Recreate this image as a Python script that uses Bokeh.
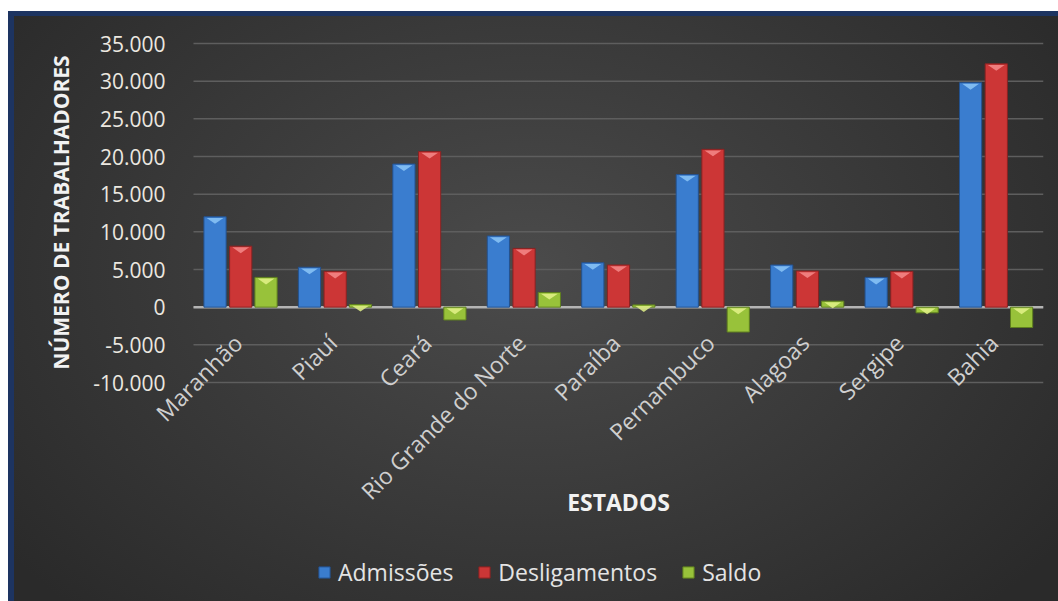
import math
from bokeh.plotting import figure
from bokeh.models import (Range1d, ColumnDataSource,
                          Legend, LegendItem, LabelSet, Label)
from bokeh.core.properties import value
from bokeh.embed import file_html
from bokeh.resources import INLINE

# ---------------- data ----------------
states = ["Maranhão", "Piauí", "Ceará", "Rio Grande do Norte", "Paraíba",
          "Pernambuco", "Alagoas", "Sergipe", "Bahia"]
admissoes = [12000, 5300, 19000, 9450, 5900, 17600, 5600, 3950, 29800]
desligamentos = [8100, 4750, 20650, 7800, 5600, 20950, 4800, 4750, 32300]
saldo = [3950, 350, -1700, 1950, 300, -3300, 800, -750, -2700]
series_names = ["Admissões", "Desligamentos", "Saldo"]
y_ticks = [-10000, -5000, 0, 5000, 10000, 15000, 20000, 25000, 30000, 35000]
y_tick_labels = ["-10.000", "-5.000", "0", "5.000", "10.000", "15.000",
                 "20.000", "25.000", "30.000", "35.000"]
x_axis_title = "ESTADOS"
y_axis_title = "NÚMERO DE TRABALHADORES"

# ---------------- style / geometry ----------------
FONT = "Open Sans"
colors = ["#3a7dcf", "#cc3636", "#98c23a"]
edge_colors = ["#24528f", "#8a2222", "#5f7f1f"]
hi_colors = ["#8cc6f7", "#f58a8a", "#e3f28a"]
offsets = [-0.272, 0.0, 0.268]
bar_w = 0.235
Y0, Y1 = -10000, 35000
N = len(states)
GRID_W = 850            # pixel width of the category area
LEFT_EXTRA = 177        # frame continues left of the grid (axis texts live here)
GRID_H = 339            # pixel height of the gridded part (35.000 .. -10.000)
EXTRA_H = 214           # frame continues below -10.000 for labels / legend
TOP_EXTRA = 20          # frame continues above 35.000 (room for top tick label)
FRAME_W = GRID_W + LEFT_EXTRA
FRAME_H = GRID_H + EXTRA_H + TOP_EXTRA
px = (Y1 - Y0) / GRID_H      # data units per pixel (y)
pxx = N / GRID_W             # category units per pixel (x)
Y_BOTTOM = Y0 - EXTRA_H * px
Y_TOP = Y1 + TOP_EXTRA * px
X_LEFT = -LEFT_EXTRA * pxx

centers = [i + 0.5 for i in range(N)]

p = figure(x_range=Range1d(X_LEFT, N), y_range=Range1d(Y_BOTTOM, Y_TOP),
           frame_width=FRAME_W, frame_height=FRAME_H,
           min_border_left=16, min_border_right=15, min_border_top=43 - TOP_EXTRA,
           min_border_bottom=5, output_backend="svg", toolbar_location=None)
p.border_fill_color = None
p.background_fill_color = None
p.outline_line_color = None
p.styles = {
    "background": (
        "linear-gradient(#ffffff,#ffffff) 0 0/100% 11px no-repeat,"
        "linear-gradient(#ffffff,#ffffff) 0 0/8px 100% no-repeat,"
        "linear-gradient(#1d3461,#1d3461) 0 11px/100% 5px no-repeat,"
        "linear-gradient(#1d3461,#1d3461) 8px 0/6px 100% no-repeat,"
        "radial-gradient(ellipse 62% 78% at 50% 45%, #4b4b4b 0%, #3c3c3c 45%, #2a2a2a 100%)"
    )
}
p.xaxis.visible = False
p.yaxis.visible = False
p.xgrid.grid_line_color = None
p.ygrid.grid_line_color = None

# horizontal gridlines over the category area only
p.segment(x0=[0] * len(y_ticks), x1=[N] * len(y_ticks), y0=y_ticks, y1=y_ticks,
          line_color="#5e5e5e", line_width=1.5)
# zero line
p.segment(x0=[0], x1=[N], y0=[0], y1=[0], line_color="#b4b4b4", line_width=2.5)

# y tick labels
tick_src = ColumnDataSource(dict(x=[0] * len(y_ticks), y=y_ticks, t=y_tick_labels))
p.add_layout(LabelSet(x="x", y="y", text="t", source=tick_src, text_align="right",
                      text_baseline="middle", x_offset=-28,
                      text_font=value(FONT), text_font_size=value("21px"),
                      text_color="#ece8e0"))

# y axis title
p.add_layout(Label(x=-133 * pxx, y=Y1 - 169 * px, text=y_axis_title, angle=math.pi / 2,
                   text_align="center", text_baseline="middle", text_font=FONT,
                   text_font_style="bold", text_font_size="21px", text_color="#f2f2f2"))

# bars
values = [admissoes, desligamentos, saldo]
renderers = []
for k in range(3):
    xk = [c + offsets[k] for c in centers]
    r = p.vbar(x=xk, top=values[k], bottom=0, width=bar_w,
               fill_color=colors[k], line_color=edge_colors[k], line_width=1)
    renderers.append(r)
    # bevel highlight triangle at top face
    xs, ys = [], []
    for c, v in zip(xk, values[k]):
        top = max(v, 0)
        xs.append([c - bar_w * 0.38, c + bar_w * 0.38, c])
        ys.append([top - 1.2 * px, top - 1.2 * px, top - 7 * px])
    p.patches(xs=xs, ys=ys, fill_color=hi_colors[k], fill_alpha=0.85, line_color=None)

# category labels (rotated 45°)
lab_src = ColumnDataSource(dict(x=centers, y=[0] * N, t=states))
p.add_layout(LabelSet(x="x", y="y", text="t", source=lab_src, angle=math.pi / 4,
                      text_align="right", text_baseline="top", x_offset=-14, y_offset=-20,
                      text_font=value(FONT), text_font_size=value("23px"),
                      text_color="#cfcfcf"))

# x axis title
p.add_layout(Label(x=N / 2, y=Y_BOTTOM + 95 * px, text=x_axis_title,
                   text_align="center", text_baseline="middle", text_font=FONT,
                   text_font_style="bold", text_font_size="23px", text_color="#f2f2f2"))

# legend
legend = Legend(items=[LegendItem(label=series_names[k], renderers=[renderers[k]]) for k in range(3)],
                orientation="horizontal", location=(293, 0))
legend.background_fill_alpha = 0
legend.border_line_alpha = 0
legend.label_text_font = FONT
legend.label_text_font_size = "23px"
legend.label_text_color = "#e4e4e4"
legend.glyph_width = 14
legend.glyph_height = 14
legend.label_standoff = 7
legend.spacing = 24
legend.margin = 0
legend.padding = 8
p.add_layout(legend)

open("out.html", "w").write(file_html(p, INLINE))
